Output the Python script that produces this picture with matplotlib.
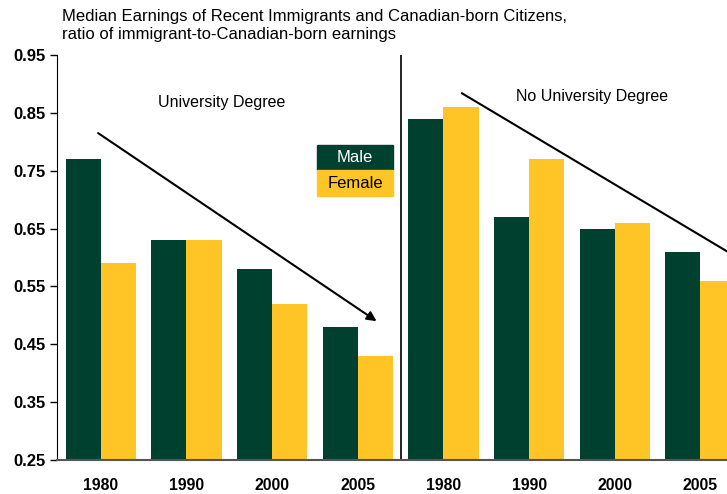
import matplotlib.pyplot as plt
from matplotlib.patches import Rectangle
import numpy as np

plt.rcParams['font.family'] = ['Liberation Sans', 'DejaVu Sans']

# data
years = ['1980', '1990', '2000', '2005', '1980', '1990', '2000', '2005']
male = [0.77, 0.63, 0.58, 0.48, 0.84, 0.67, 0.65, 0.61]
female = [0.59, 0.63, 0.52, 0.43, 0.86, 0.77, 0.66, 0.56]
yticks = [0.25, 0.35, 0.45, 0.55, 0.65, 0.75, 0.85, 0.95]

green = '#00402F'
yellow = '#FFC425'

fig = plt.figure(figsize=(7.27, 4.94), dpi=100)
ax = fig.add_axes([57/727, 34/494, 1 - 57/727, (460-55)/494])

x = np.arange(len(years))
w = 0.41
base = 0.25
ax.bar(x - w/2, np.array(male) - base, w, bottom=base, color=green, linewidth=0)
ax.bar(x + w/2, np.array(female) - base, w, bottom=base, color=yellow, linewidth=0)

ax.set_xlim(-0.51, 7.31)
ax.set_ylim(0.25, 0.95)
ax.set_yticks(yticks)
ax.set_yticklabels(['%.2f' % v for v in yticks], fontsize=12, fontweight='bold')
ax.set_xticks(x)
ax.set_xticklabels(years, fontsize=11.3, fontweight='bold')
ax.tick_params(axis='x', length=0, pad=13)
ax.tick_params(axis='y', length=5, width=1, pad=3, direction='out')

for s in ['top', 'right']:
    ax.spines[s].set_visible(False)
ax.spines['left'].set_color('black')
ax.spines['bottom'].set_color('#555555')
ax.spines['bottom'].set_linewidth(1.5)

# divider between the two panels
ax.axvline(3.5, color='black', lw=1.2)

ax.text(1.41, 0.868, 'University Degree', fontsize=11.5, ha='center', va='center')
ax.text(5.73, 0.879, 'No University Degree', fontsize=11.5, ha='center', va='center')

ax.annotate('', xy=(3.22, 0.49), xytext=(-0.03, 0.815),
            arrowprops=dict(arrowstyle='-|>', color='black', lw=1.5,
                            mutation_scale=14, shrinkA=0, shrinkB=0))
ax.annotate('', xy=(7.6, 0.585), xytext=(4.215, 0.884),
            arrowprops=dict(arrowstyle='-|>', color='black', lw=1.5,
                            mutation_scale=14, shrinkA=0, shrinkB=0),
            annotation_clip=False)

# legend boxes
fig.patches.append(Rectangle((317/727, 1 - 170/494), 76/727, 25/494,
                             transform=fig.transFigure, color=green, zorder=5))
fig.patches.append(Rectangle((317/727, 1 - 196/494), 76/727, 26/494,
                             transform=fig.transFigure, color=yellow, zorder=5))
fig.text(355/727, 1 - 157.5/494, 'Male', color='white', fontsize=12,
         ha='center', va='center', zorder=6)
fig.text(355/727, 1 - 183/494, 'Female', color='black', fontsize=12,
         ha='center', va='center', zorder=6)

fig.text(62/727, 1 - 9/494,
         'Median Earnings of Recent Immigrants and Canadian-born Citizens,\n'
         'ratio of immigrant-to-Canadian-born earnings',
         fontsize=12, ha='left', va='top', linespacing=1.22)

fig.savefig('out.png', dpi=100)
